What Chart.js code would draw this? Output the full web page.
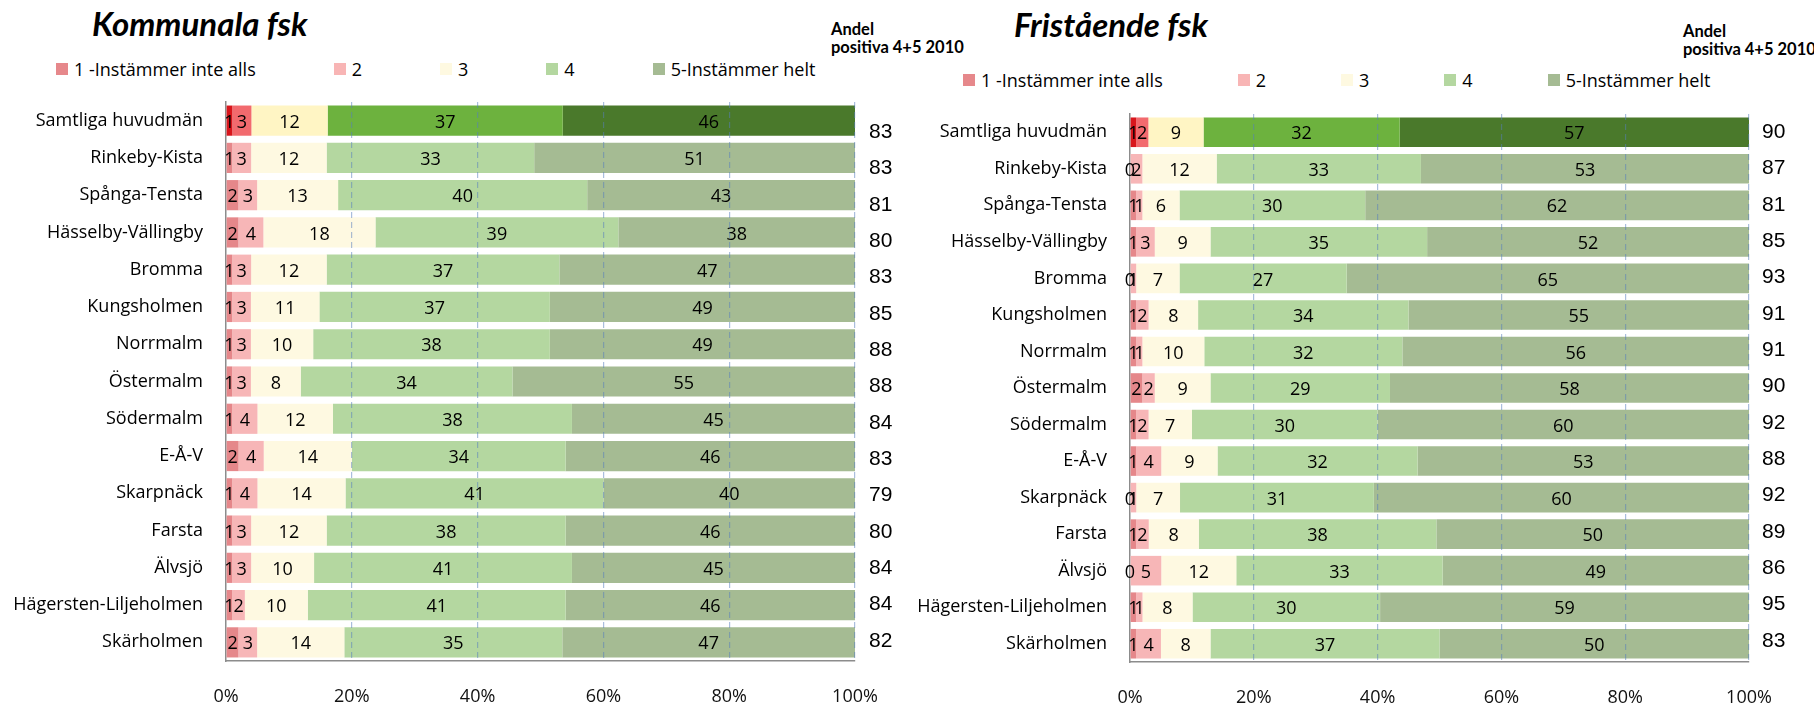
<!DOCTYPE html>
<html>
<head>
<meta charset="utf-8">
<script src="https://cdn.jsdelivr.net/npm/chart.js@4.4.1/dist/chart.umd.min.js"></script>
<style>
  html, body { margin: 0; padding: 0; background: #fff; }
  body { width: 1814px; height: 705px; position: relative; overflow: hidden; font-family: "Open Sans", sans-serif; }
  canvas { position: absolute; top: 0; }
  #cLeft { left: 0; }
  #cRight { left: 907px; }
  .title { position: absolute; font-family: Lato, sans-serif; font-weight: 700; font-style: italic; font-size: 33px; line-height: 33px; color: #000; white-space: nowrap; }
  .andel { position: absolute; font-family: Lato, sans-serif; font-weight: 700; font-size: 16.5px; line-height: 18px; color: #000; white-space: nowrap; }
  .legend { position: absolute; display: flex; align-items: center; font-family: "Open Sans", sans-serif; font-size: 18px; line-height: 22px; color: #000; white-space: nowrap; }
  .legend .item { display: flex; align-items: center; }
  .legend .box { width: 12px; height: 12px; margin-right: 6px; }
</style>
</head>
<body>
<div class="title" style="left:92px; top:7px;">Kommunala fsk</div>
<div class="title" style="left:1014px; top:8px;">Fristående fsk</div>
<div class="andel" style="left:831px; top:20px;">Andel<br>positiva 4+5 2010</div>
<div class="andel" style="left:1683px; top:22px;">Andel<br>positiva 4+5 2010</div>
<div class="legend" id="legLeft" style="left:56px; top:58px;"></div>
<div class="legend" id="legRight" style="left:963px; top:69px;"></div>
<canvas id="cLeft" width="907" height="705"></canvas>
<canvas id="cRight" width="907" height="705"></canvas>
<script>
// ---------- DATA ----------
const categories = ["Samtliga huvudmän", "Rinkeby-Kista", "Spånga-Tensta", "Hässelby-Vällingby", "Bromma",
  "Kungsholmen", "Norrmalm", "Östermalm", "Södermalm", "E-Å-V", "Skarpnäck", "Farsta", "Älvsjö",
  "Hägersten-Liljeholmen", "Skärholmen"];
const seriesNames = ["1 -Instämmer inte alls", "2", "3", "4", "5-Instämmer helt"];
const xTickLabels = ["0%", "20%", "40%", "60%", "80%", "100%"];

// Kommunala fsk
const komS1 = [1, 1, 2, 2, 1, 1, 1, 1, 1, 2, 1, 1, 1, 1, 2];
const komS2 = [3, 3, 3, 4, 3, 3, 3, 3, 4, 4, 4, 3, 3, 2, 3];
const komS3 = [12, 12, 13, 18, 12, 11, 10, 8, 12, 14, 14, 12, 10, 10, 14];
const komS4 = [37, 33, 40, 39, 37, 37, 38, 34, 38, 34, 41, 38, 41, 41, 35];
const komS5 = [46, 51, 43, 38, 47, 49, 49, 55, 45, 46, 40, 46, 45, 46, 47];
const komAndel2010 = [83, 83, 81, 80, 83, 85, 88, 88, 84, 83, 79, 80, 84, 84, 82];

// Fristående fsk
const friS1 = [1, 0, 1, 1, 0, 1, 1, 2, 1, 1, 0, 1, 0, 1, 1];
const friS2 = [2, 2, 1, 3, 1, 2, 1, 2, 2, 4, 1, 2, 5, 1, 4];
const friS3 = [9, 12, 6, 9, 7, 8, 10, 9, 7, 9, 7, 8, 12, 8, 8];
const friS4 = [32, 33, 30, 35, 27, 34, 32, 29, 30, 32, 31, 38, 33, 30, 37];
const friS5 = [57, 53, 62, 52, 65, 55, 56, 58, 60, 53, 60, 50, 49, 59, 50];
const friAndel2010 = [90, 87, 81, 85, 93, 91, 91, 90, 92, 88, 92, 89, 86, 95, 83];

// ---------- STYLES ----------
const normalColors = ["#E5878A", "#F7B6B7", "#FEF9E1", "#B4D7A0", "#A5BB93"];
const highlightColors = ["#D8161C", "#F26A6E", "#FFF5C4", "#6DB23E", "#4A792B"];
const legendColors = ["#E6888B", "#F8B5B5", "#FEF9E1", "#B4D7A0", "#A5BB93"];

function buildLegend(id, gap) {
  const el = document.getElementById(id);
  seriesNames.forEach((n, i) => {
    const it = document.createElement('div');
    it.className = 'item';
    if (i < seriesNames.length - 1) it.style.marginRight = gap + 'px';
    const b = document.createElement('div');
    b.className = 'box';
    b.style.background = legendColors[i];
    const t = document.createElement('span');
    t.textContent = n;
    it.appendChild(b); it.appendChild(t);
    el.appendChild(it);
  });
}
buildLegend('legLeft', 78);
buildLegend('legRight', 75);

const valueLabels = {
  id: 'valueLabels',
  afterDatasetsDraw(chart) {
    const ctx = chart.ctx;
    ctx.save();
    ctx.font = '18px "Open Sans"';
    ctx.fillStyle = '#000';
    ctx.textAlign = 'center';
    ctx.textBaseline = 'middle';
    chart.data.datasets.forEach((ds, di) => {
      const meta = chart.getDatasetMeta(di);
      meta.data.forEach((bar, i) => {
        const p = bar.getProps(['x', 'base', 'y'], true);
        ctx.fillText(String(ds.raw[i]), (p.x + p.base) / 2, p.y + 2);
      });
    });
    ctx.restore();
  }
};

function makeChart(canvasId, series, andel, geom) {
  const sums = categories.map((_, i) => series.reduce((a, s) => a + s[i], 0));
  const datasets = series.map((s, k) => ({
    label: seriesNames[k],
    raw: s,
    data: s.map((v, i) => v / sums[i] * 100),
    backgroundColor: categories.map((_, i) => i === 0 ? highlightColors[k] : normalColors[k]),
    borderWidth: 0,
    barPercentage: 0.81,
    categoryPercentage: 1.0
  }));
  return new Chart(document.getElementById(canvasId), {
    type: 'bar',
    data: { labels: categories, datasets },
    plugins: [valueLabels],
    options: {
      indexAxis: 'y',
      responsive: false,
      animation: false,
      events: [],
      layout: { padding: { top: geom.top, left: 0, right: 0, bottom: 0 } },
      plugins: { legend: { display: false }, title: { display: false }, tooltip: { enabled: false } },
      scales: {
        x: {
          stacked: true, min: 0, max: 100,
          afterBuildTicks: s => { s.ticks = xTickLabels.map((_, i) => ({ value: i * 20 })); },
          afterFit: s => { s.height = geom.bottomH; },
          ticks: { padding: 25, color: '#111', font: { family: 'Open Sans', size: 18 },
                   callback: (v, i) => xTickLabels[i] },
          grid: { z: 1, drawTicks: false, lineWidth: 1.2,
                  color: c => (c.tick && c.tick.value === 0) ? 'rgba(0,0,0,0)' : 'rgba(85,125,190,0.5)' },
          border: { display: true, z: 1, color: '#8c8c8c', width: 1.5, dash: [6, 4] }
        },
        y: {
          stacked: true,
          afterFit: s => { s.width = geom.leftW; },
          ticks: { padding: 23, color: '#000', font: { family: 'Open Sans', size: 18 }, autoSkip: false },
          grid: { display: false, drawTicks: false },
          border: { display: true, color: '#8c8c8c', width: 1.5 }
        },
        y2: {
          type: 'linear', position: 'right', reverse: true, offset: false,
          min: geom.y2min, max: geom.y2max,
          afterBuildTicks: s => { s.ticks = andel.map((_, i) => ({ value: i })); },
          afterFit: s => { s.width = geom.rightW; },
          ticks: { padding: geom.rightPad, color: '#000', font: { family: 'Liberation Sans', size: 21 },
                   autoSkip: false, callback: (v, i) => String(andel[i]) },
          grid: { display: false, drawTicks: false, offset: false },
          border: { display: false }
        }
      }
    }
  });
}

Promise.all([
  document.fonts.load('18px "Open Sans"'),
  document.fonts.load('21px "Liberation Sans"'),
  document.fonts.load('italic 700 33px Lato'),
  document.fonts.load('700 16.5px Lato')
]).catch(() => {}).then(() => {
  makeChart('cLeft', [komS1, komS2, komS3, komS4, komS5], komAndel2010,
    { top: 102, bottomH: 44, leftW: 226, rightW: 52, rightPad: 14, y2min: -0.825, y2max: 14.55 });
  makeChart('cRight', [friS1, friS2, friS3, friS4, friS5], friAndel2010,
    { top: 114, bottomH: 43, leftW: 223, rightW: 65, rightPad: 13, y2min: -0.495, y2max: 14.578 });
});
</script>
</body>
</html>
